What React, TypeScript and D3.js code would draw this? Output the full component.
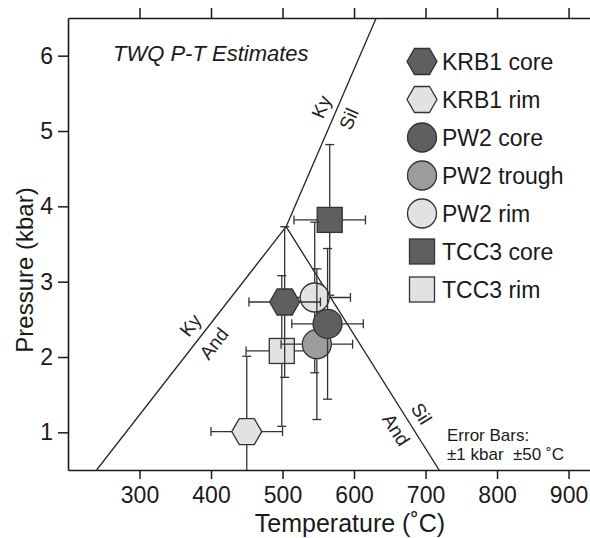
import React, { useEffect, useRef } from 'react';
import * as d3 from 'd3';

// sample estimates (legend order)
const sampleNames = ['KRB1 core', 'KRB1 rim', 'PW2 core', 'PW2 trough', 'PW2 rim', 'TCC3 core', 'TCC3 rim'];
const sampleShapes = ['hexagon', 'hexagon', 'circle', 'circle', 'circle', 'square', 'square'];
const sampleFills = ['#5f5f5f', '#e2e2e2', '#5f5f5f', '#9c9c9c', '#e2e2e2', '#5f5f5f', '#e2e2e2'];
const temperatures = [503, 450, 563, 548, 545, 566, 499];
const pressures = [2.73, 1.01, 2.44, 2.17, 2.79, 3.82, 2.08];
const errTemp = 50;
const errPress = 1;
// order the traces were plotted in
const drawOrder = [6, 5, 4, 3, 2, 1, 0];

const xTicks = [300, 400, 500, 600, 700, 800, 900];
const yTicks = [1, 2, 3, 4, 5, 6];

// Al2SiO5 phase boundaries [T, P]
const triplePoint = [505, 3.73];
const kyAndEnd = [240, 0.5];
const kySilEnd = [631, 6.5];
const andSilEnd = [719, 0.5];

const phaseLabels = [
  { from: triplePoint, to: kySilEnd, p: 5.24, above: 'Ky', below: 'Sil' },
  { from: kyAndEnd, to: triplePoint, p: 2.3, above: 'Ky', below: 'And' },
  { from: triplePoint, to: andSilEnd, p: 1.14, above: 'Sil', below: 'And' },
];

const noteLines = ['Error Bars:', '±1 kbar  ±50 ˚C'];

const FONT = '"Liberation Sans", Arial, Helvetica, sans-serif';

function drawMarker(g: any, shape: string, cx: number, cy: number, fill: string) {
  if (shape === 'hexagon') {
    const r = 15;
    const pts = d3.range(6).map(i => [cx + r * Math.cos((i * Math.PI) / 3), cy + r * Math.sin((i * Math.PI) / 3)]);
    g.append('polygon')
      .attr('points', pts.map(p => p.join(',')).join(' '))
      .attr('fill', fill).attr('stroke', '#333').attr('stroke-width', 1.3);
  } else if (shape === 'circle') {
    g.append('circle').attr('cx', cx).attr('cy', cy).attr('r', 14.5)
      .attr('fill', fill).attr('stroke', '#333').attr('stroke-width', 1.3);
  } else {
    const s = 25;
    g.append('rect').attr('x', cx - s / 2).attr('y', cy - s / 2).attr('width', s).attr('height', s)
      .attr('fill', fill).attr('stroke', '#333').attr('stroke-width', 1.3);
  }
}

const App = () => {
  const svgRef = useRef<SVGSVGElement>(null);

  useEffect(() => {
    const width = 590;
    const height = 538;
    const left = 68, top = 18, bottom = 470, right = 590;

    const svg = d3.select(svgRef.current);
    svg.selectAll('*').remove();

    const x = d3.scaleLinear().domain([200, 930]).range([left, right]);
    const y = d3.scaleLinear().domain([0.5, 6.5]).range([bottom, top]);

    svg.append('rect').attr('width', width).attr('height', height).attr('fill', '#fff');

    svg.append('clipPath').attr('id', 'plotClip')
      .append('rect').attr('x', left).attr('y', top).attr('width', right - left).attr('height', bottom - top);

    const plot = svg.append('g').attr('clip-path', 'url(#plotClip)');

    // phase boundaries
    [kyAndEnd, kySilEnd, andSilEnd].forEach(end => {
      plot.append('line')
        .attr('x1', x(triplePoint[0])).attr('y1', y(triplePoint[1]))
        .attr('x2', x(end[0])).attr('y2', y(end[1]))
        .attr('stroke', '#222').attr('stroke-width', 1.3);
    });

    // phase labels along the boundaries
    phaseLabels.forEach(lab => {
      const [t0, p0] = lab.from;
      const [t1, p1] = lab.to;
      const t = t0 + ((lab.p - p0) * (t1 - t0)) / (p1 - p0);
      const px = x(t), py = y(lab.p);
      const ang = (Math.atan2(y(p1) - y(p0), x(t1) - x(t0)) * 180) / Math.PI;
      const lg = svg.append('g').attr('transform', `translate(${px},${py}) rotate(${ang})`);
      lg.append('text').attr('x', 0).attr('y', -15).attr('dominant-baseline', 'central')
        .attr('text-anchor', 'middle').attr('font-family', FONT).attr('font-size', 19).attr('fill', '#222')
        .text(lab.above);
      lg.append('text').attr('x', 0).attr('y', 15).attr('dominant-baseline', 'central')
        .attr('text-anchor', 'middle').attr('font-family', FONT).attr('font-size', 19).attr('fill', '#222')
        .text(lab.below);
    });

    // error bars + markers, trace by trace
    const cap = 4.5;
    drawOrder.forEach(i => {
      const cx = x(temperatures[i]);
      const cy = y(pressures[i]);
      const xl = x(temperatures[i] - errTemp), xr = x(temperatures[i] + errTemp);
      const yb = y(pressures[i] - errPress), yt = y(pressures[i] + errPress);
      const eg = plot.append('g').attr('stroke', '#333').attr('stroke-width', 1.3);
      eg.append('line').attr('x1', xl).attr('x2', xr).attr('y1', cy).attr('y2', cy);
      eg.append('line').attr('x1', cx).attr('x2', cx).attr('y1', yb).attr('y2', yt);
      eg.append('line').attr('x1', xl).attr('x2', xl).attr('y1', cy - cap).attr('y2', cy + cap);
      eg.append('line').attr('x1', xr).attr('x2', xr).attr('y1', cy - cap).attr('y2', cy + cap);
      eg.append('line').attr('x1', cx - cap).attr('x2', cx + cap).attr('y1', yt).attr('y2', yt);
      eg.append('line').attr('x1', cx - cap).attr('x2', cx + cap).attr('y1', yb).attr('y2', yb);
      drawMarker(plot, sampleShapes[i], cx, cy, sampleFills[i]);
    });

    // axes
    const styleAxis = (g: any, fs: number) => {
      g.attr('font-family', FONT).attr('font-size', fs);
      g.selectAll('path').attr('stroke', '#1a1a1a').attr('stroke-width', 1.6);
      g.selectAll('line').attr('stroke', '#1a1a1a').attr('stroke-width', 1.5);
      g.selectAll('text').attr('fill', '#1a1a1a');
    };

    const gx = svg.append('g').attr('transform', `translate(0,${bottom})`)
      .call(d3.axisBottom(x).tickValues(xTicks).tickSize(9).tickSizeOuter(0).tickPadding(8).tickFormat(d3.format('d')));
    styleAxis(gx, 23);

    const gxt = svg.append('g').attr('transform', `translate(0,${top})`)
      .call(d3.axisTop(x).tickValues(xTicks).tickSize(10).tickSizeOuter(0).tickFormat(() => ''));
    styleAxis(gxt, 23);

    const gy = svg.append('g').attr('transform', `translate(${left},0)`)
      .call(d3.axisLeft(y).tickValues(yTicks).tickSize(10).tickSizeOuter(0).tickPadding(5).tickFormat(d3.format('d')));
    styleAxis(gy, 23);

    // axis titles
    svg.append('text')
      .attr('x', 350).attr('y', 532)
      .attr('text-anchor', 'middle').attr('font-family', FONT).attr('font-size', 25).attr('fill', '#1a1a1a')
      .text('Temperature (˚C)');

    svg.append('text')
      .attr('transform', 'translate(33,270) rotate(-90)')
      .attr('text-anchor', 'middle').attr('font-family', FONT).attr('font-size', 24).attr('fill', '#1a1a1a')
      .text('Pressure (kbar)');

    // title
    svg.append('text')
      .attr('x', 113).attr('y', 61)
      .attr('font-family', FONT).attr('font-size', 22).attr('font-style', 'italic').attr('fill', '#1a1a1a')
      .text('TWQ P-T Estimates');

    // legend
    const legend = svg.append('g');
    sampleNames.forEach((name, i) => {
      const ly = 61.5 + i * 38;
      drawMarker(legend, sampleShapes[i], 422, ly, sampleFills[i]);
      legend.append('text')
        .attr('x', 442).attr('y', ly).attr('dy', '0.35em')
        .attr('font-family', FONT).attr('font-size', 23).attr('fill', '#1a1a1a')
        .text(name);
    });

    // error bar note, one text per line
    noteLines.forEach((line, i) => {
      svg.append('text')
        .attr('x', 447).attr('y', 441 + i * 18.5)
        .attr('font-family', FONT).attr('font-size', 17).attr('fill', '#1a1a1a')
        .style('white-space', 'pre')
        .text(line);
    });
  }, []);

  return (
    <svg ref={svgRef} width={590} height={538}
      style={{ position: 'absolute', left: 0, top: 0, display: 'block' }} />
  );
};

export default App;
